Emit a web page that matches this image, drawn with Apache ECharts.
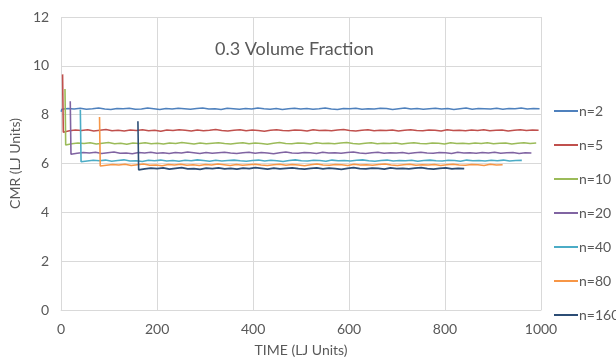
<!DOCTYPE html>
<html>
<head>
<meta charset="utf-8">
<script src="https://cdn.jsdelivr.net/npm/echarts@6/dist/echarts.min.js"></script>
<style>
  html, body { margin: 0; padding: 0; background: #fff; }
  #chart { width: 616px; height: 362px; }
</style>
</head>
<body>
<div id="chart"></div>
<script>
// Chain length of each run
const seriesNames = ['n=2', 'n=5', 'n=10', 'n=20', 'n=40', 'n=80', 'n=160'];
const seriesColors = ['#4F81BD', '#C0504D', '#9BBB59', '#8064A2', '#4BACC6', '#F79646', '#2C4D75'];

// Time of the first recorded sample and of the last one (LJ units)
const startTimes = [0, 3, 8, 19, 40, 80, 160];
const endTimes = [997, 995, 990, 980, 960, 920, 840];

// CMR samples; the first value of each run is its initial spike
const cmrN2 = [
  8.12, 8.22, 8.25, 8.23, 8.26, 8.22, 8.24, 8.27, 8.23, 8.21, 8.25, 8.24, 8.26, 8.22, 8.23, 8.27, 8.24, 8.21, 8.25, 8.23,
  8.26, 8.24, 8.22, 8.25, 8.27, 8.23, 8.24, 8.21, 8.26, 8.24, 8.22, 8.25, 8.23, 8.27, 8.24, 8.22, 8.25, 8.21, 8.24, 8.26,
  8.23, 8.25, 8.22, 8.24, 8.27, 8.23, 8.21, 8.25, 8.24, 8.26, 8.22, 8.24, 8.23, 8.26, 8.25, 8.21, 8.24, 8.27, 8.23, 8.25,
  8.22, 8.24, 8.26, 8.23, 8.25, 8.21, 8.24, 8.27, 8.22, 8.25, 8.24, 8.23, 8.26, 8.22, 8.25, 8.24, 8.27, 8.23, 8.25, 8.24
];
const cmrN5 = [
  9.65, 7.28, 7.34, 7.37, 7.35, 7.38, 7.33, 7.36, 7.39, 7.34, 7.36, 7.33, 7.37, 7.35, 7.38, 7.34, 7.36, 7.32, 7.37, 7.35,
  7.38, 7.36, 7.33, 7.37, 7.34, 7.36, 7.39, 7.35, 7.33, 7.36, 7.38, 7.34, 7.37, 7.35, 7.32, 7.36, 7.38, 7.35, 7.34, 7.37,
  7.36, 7.33, 7.38, 7.35, 7.36, 7.34, 7.37, 7.39, 7.35, 7.33, 7.36, 7.38, 7.34, 7.36, 7.35, 7.37, 7.33, 7.36, 7.38, 7.35,
  7.34, 7.37, 7.36, 7.33, 7.38, 7.35, 7.36, 7.34, 7.37, 7.35, 7.38, 7.34, 7.36, 7.37, 7.33, 7.36, 7.38, 7.35, 7.37, 7.36
];
const cmrN10 = [
  9.05, 6.76, 6.81, 6.84, 6.82, 6.85, 6.80, 6.83, 6.86, 6.81, 6.83, 6.79, 6.84, 6.82, 6.85, 6.81, 6.83, 6.80, 6.84, 6.82,
  6.86, 6.83, 6.80, 6.84, 6.81, 6.83, 6.85, 6.82, 6.80, 6.83, 6.85, 6.81, 6.84, 6.82, 6.79, 6.83, 6.86, 6.82, 6.81, 6.84,
  6.83, 6.80, 6.85, 6.82, 6.83, 6.81, 6.84, 6.86, 6.82, 6.80, 6.83, 6.85, 6.81, 6.83, 6.82, 6.84, 6.80, 6.83, 6.85, 6.82,
  6.81, 6.84, 6.83, 6.80, 6.85, 6.82, 6.83, 6.81, 6.84, 6.82, 6.85, 6.81, 6.83, 6.84, 6.80, 6.83, 6.85, 6.82, 6.84
];
const cmrN20 = [
  8.55, 6.38, 6.42, 6.45, 6.43, 6.46, 6.41, 6.44, 6.47, 6.42, 6.43, 6.40, 6.45, 6.43, 6.46, 6.42, 6.44, 6.41, 6.45, 6.43,
  6.47, 6.44, 6.41, 6.45, 6.42, 6.44, 6.46, 6.43, 6.41, 6.44, 6.46, 6.42, 6.45, 6.43, 6.40, 6.44, 6.47, 6.43, 6.42, 6.45,
  6.44, 6.41, 6.46, 6.43, 6.44, 6.42, 6.45, 6.47, 6.43, 6.41, 6.44, 6.46, 6.42, 6.44, 6.43, 6.45, 6.41, 6.44, 6.46, 6.43,
  6.42, 6.45, 6.44, 6.41, 6.46, 6.43, 6.44, 6.42, 6.45, 6.43, 6.46, 6.42, 6.44, 6.45, 6.41, 6.44, 6.43
];
const cmrN40 = [
  8.20, 6.07, 6.10, 6.13, 6.11, 6.14, 6.09, 6.12, 6.15, 6.10, 6.11, 6.08, 6.13, 6.11, 6.14, 6.10, 6.12, 6.09, 6.13, 6.11,
  6.15, 6.12, 6.09, 6.13, 6.10, 6.12, 6.14, 6.11, 6.09, 6.12, 6.14, 6.10, 6.13, 6.11, 6.08, 6.12, 6.15, 6.11, 6.10, 6.13,
  6.12, 6.09, 6.14, 6.11, 6.12, 6.10, 6.13, 6.15, 6.11, 6.09, 6.12, 6.14, 6.10, 6.12, 6.11, 6.13, 6.09, 6.12, 6.14, 6.11,
  6.10, 6.13, 6.12, 6.09, 6.14, 6.11, 6.12, 6.10, 6.13, 6.11, 6.14, 6.10, 6.12, 6.13
];
const cmrN80 = [
  7.90, 5.90, 5.93, 5.96, 5.94, 5.97, 5.92, 5.95, 5.98, 5.93, 5.94, 5.91, 5.96, 5.94, 5.97, 5.93, 5.95, 5.92, 5.96, 5.94,
  5.98, 5.95, 5.92, 5.96, 5.93, 5.95, 5.97, 5.94, 5.92, 5.95, 5.97, 5.93, 5.96, 5.94, 5.91, 5.95, 5.98, 5.94, 5.93, 5.96,
  5.95, 5.92, 5.97, 5.94, 5.95, 5.93, 5.96, 5.98, 5.94, 5.92, 5.95, 5.97, 5.93, 5.95, 5.94, 5.96, 5.92, 5.95, 5.97, 5.94,
  5.93, 5.96, 5.95, 5.92, 5.97, 5.94, 5.95
];
const cmrN160 = [
  7.73, 5.74, 5.78, 5.81, 5.79, 5.82, 5.77, 5.80, 5.83, 5.78, 5.79, 5.76, 5.81, 5.79, 5.82, 5.78, 5.80, 5.77, 5.81, 5.79,
  5.83, 5.80, 5.77, 5.81, 5.78, 5.80, 5.82, 5.79, 5.77, 5.80, 5.82, 5.78, 5.81, 5.79, 5.76, 5.80, 5.83, 5.79, 5.78, 5.81,
  5.80, 5.77, 5.82, 5.79, 5.80, 5.78, 5.81, 5.83, 5.79, 5.77, 5.80, 5.82, 5.78, 5.80, 5.79
];
const cmrRuns = [cmrN2, cmrN5, cmrN10, cmrN20, cmrN40, cmrN80, cmrN160];

// Axis ranges and ticks
const timeTicks = [0, 200, 400, 600, 800, 1000];
const cmrTicks = [0, 2, 4, 6, 8, 10, 12];

// Pair each sample with its time: the spike sits at the start time,
// the remaining samples are spread evenly up to the end time.
function samplesWithTime(vals, t0, t1) {
  const out = [[t0, vals[0]]];
  const first = t0 + 1.5;
  const n = vals.length - 1;
  for (let i = 0; i < n; i++) {
    const t = first + (t1 - first) * i / (n - 1);
    out.push([t, vals[i + 1]]);
  }
  return out;
}

const textColor = '#595959';
const gridColor = '#D9D9D9';
const fontFam = 'Lato, "Open Sans", sans-serif';

const chart = echarts.init(document.getElementById('chart'), null, { renderer: 'canvas' });

chart.setOption({
  backgroundColor: '#ffffff',
  animation: false,
  title: {
    text: '0.3 Volume Fraction',
    left: 210,
    top: 35,
    textStyle: { color: textColor, fontSize: 18, fontWeight: 'normal', fontFamily: fontFam }
  },
  grid: { left: 59, right: 75, top: 17, bottom: 48, containLabel: false },
  legend: {
    orient: 'vertical',
    left: 554,
    top: 104,
    padding: 0,
    icon: 'rect',
    itemWidth: 24,
    itemHeight: 2,
    itemGap: 20,
    textStyle: { color: textColor, fontSize: 14, fontFamily: fontFam, lineHeight: 14, padding: [0, 0, 0, -4], overflow: 'none' },
    data: seriesNames
  },
  xAxis: {
    type: 'value',
    min: timeTicks[0],
    max: timeTicks[timeTicks.length - 1],
    interval: timeTicks[1] - timeTicks[0],
    name: 'TIME (LJ Units)',
    nameLocation: 'middle',
    nameGap: 33,
    nameTextStyle: { color: textColor, fontSize: 14, fontFamily: fontFam },
    axisLine: { show: true, lineStyle: { color: gridColor, width: 1 } },
    axisTick: { show: false },
    axisLabel: { color: textColor, fontSize: 14, fontFamily: fontFam, margin: 12, formatter: v => String(v) },
    splitLine: { show: true, lineStyle: { color: gridColor, width: 1 } }
  },
  yAxis: {
    type: 'value',
    min: cmrTicks[0],
    max: cmrTicks[cmrTicks.length - 1],
    interval: cmrTicks[1] - cmrTicks[0],
    name: 'CMR (LJ Units)',
    nameLocation: 'middle',
    nameGap: 35,
    nameTextStyle: { color: textColor, fontSize: 14, fontFamily: fontFam },
    axisLine: { show: false },
    axisTick: { show: false },
    axisLabel: { color: textColor, fontSize: 14, fontFamily: fontFam, margin: 12 },
    splitLine: { show: true, lineStyle: { color: gridColor, width: 1 } }
  },
  series: seriesNames.map((name, k) => ({
    name: name,
    type: 'line',
    showSymbol: false,
    symbol: 'none',
    color: seriesColors[k],
    lineStyle: { width: 1.6, color: seriesColors[k] },
    data: samplesWithTime(cmrRuns[k], startTimes[k], endTimes[k]),
    z: 2 + k
  }))
});
</script>
</body>
</html>
